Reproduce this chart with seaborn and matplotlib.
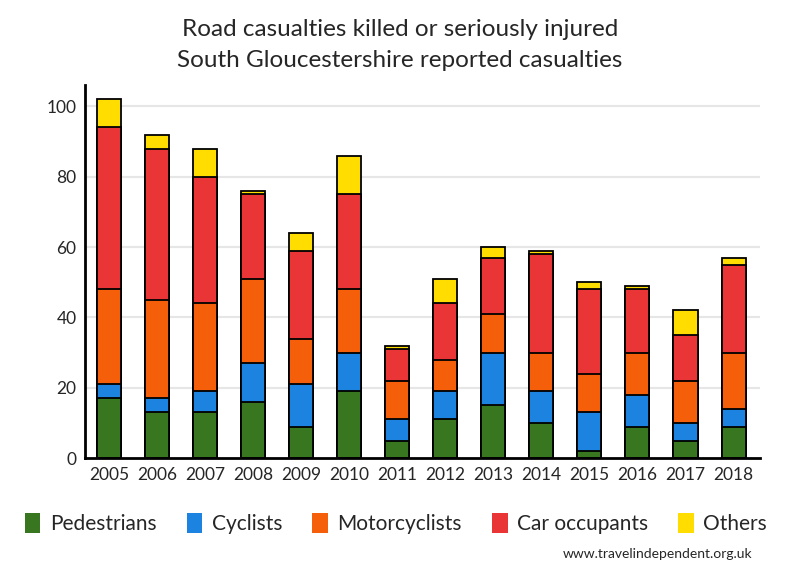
import matplotlib
matplotlib.use("Agg")
import matplotlib.pyplot as plt
import seaborn as sns
import numpy as np
import pandas as pd
from matplotlib.patches import Patch

years = ["2005", "2006", "2007", "2008", "2009", "2010", "2011",
         "2012", "2013", "2014", "2015", "2016", "2017", "2018"]
pedestrians = [17, 13, 13, 16, 9, 19, 5, 11, 15, 10, 2, 9, 5, 9]
cyclists = [4, 4, 6, 11, 12, 11, 6, 8, 15, 9, 11, 9, 5, 5]
motorcyclists = [27, 28, 25, 24, 13, 18, 11, 9, 11, 11, 11, 12, 12, 16]
car_occupants = [46, 43, 36, 24, 25, 27, 9, 16, 16, 28, 24, 18, 13, 25]
others = [8, 4, 8, 1, 5, 11, 1, 7, 3, 1, 2, 1, 7, 2]

series_names = ["Pedestrians", "Cyclists", "Motorcyclists", "Car occupants", "Others"]
series_vals = [pedestrians, cyclists, motorcyclists, car_occupants, others]
colors = ["#38761f", "#1c84e0", "#f55f0a", "#e93535", "#ffdd00"]

sns.set_style("white")
plt.rcParams["font.family"] = ["Lato", "DejaVu Sans"]

fig = plt.figure(figsize=(8, 5.8), dpi=100)
ax = fig.add_axes([0.106, 0.21, 0.844, 0.643])

cum = np.cumsum(np.array(series_vals), axis=0)
# draw from top down so lower segments overlay
for i in range(len(series_names) - 1, -1, -1):
    df = pd.DataFrame({"year": years, "value": cum[i]})
    sns.barplot(data=df, x="year", y="value", color=colors[i], width=0.5,
                edgecolor="black", linewidth=1.3, saturation=1, ax=ax, zorder=3)

ax.set_xlim(-0.5, 13.55)
ax.set_ylim(0, 106)
ax.set_yticks([0, 20, 40, 60, 80, 100])
ax.set_xlabel("")
ax.set_ylabel("")
for y in [20, 40, 60, 80, 100]:
    ax.axhline(y, color="#e6e6e6", linewidth=1.5, zorder=1)
ax.tick_params(axis="both", labelsize=12.5, length=0, pad=6)
for s in ["top", "right"]:
    ax.spines[s].set_visible(False)
for s in ["left", "bottom"]:
    ax.spines[s].set_color("black")
    ax.spines[s].set_linewidth(2)
    ax.spines[s].set_zorder(5)

fig.text(0.5, 0.950, "Road casualties killed or seriously injured", ha="center",
         va="center", fontsize=17.5)
fig.text(0.5, 0.895, "South Gloucestershire reported casualties", ha="center",
         va="center", fontsize=17.5)

handles = [Patch(facecolor=c, edgecolor="none", label=n) for c, n in zip(colors, series_names)]
fig.legend(handles=handles, loc="center", bbox_to_anchor=(0.495, 0.097), ncol=5,
           frameon=False, fontsize=15, handlelength=0.75, handleheight=1.05,
           handletextpad=0.45, columnspacing=1.45, borderaxespad=0)

fig.text(0.94, 0.045, "www.travelindependent.org.uk", ha="right", va="center", fontsize=10)

fig.savefig("out.png", dpi=100)
